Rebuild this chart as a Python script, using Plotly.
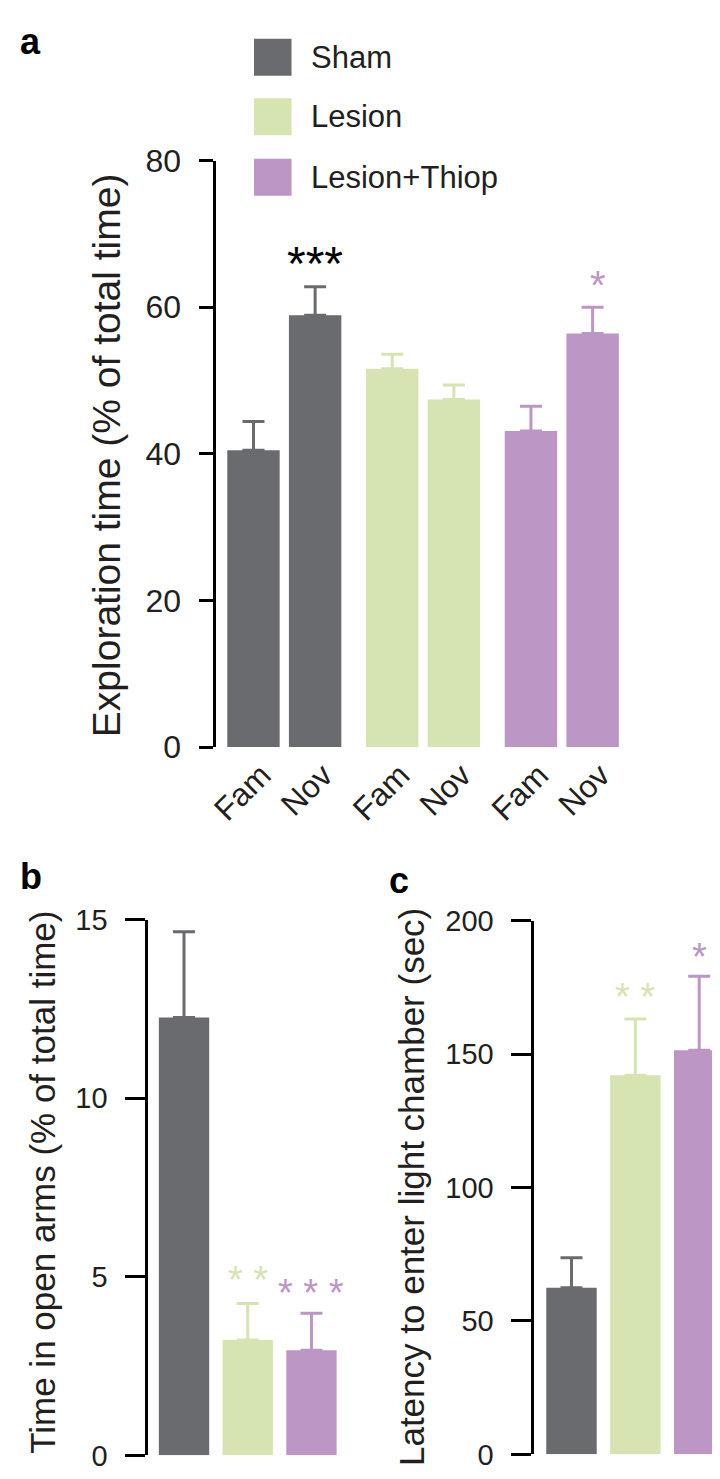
import plotly.graph_objects as go

# ---------------- data ----------------
groups = ["Sham", "Lesion", "Lesion+Thiop"]
conditions = ["Fam", "Nov"]

# panel a: exploration time (% of total time)
a_sham_mean = [40.5, 58.9]
a_sham_err = [3.9, 3.9]
a_lesion_mean = [51.6, 47.4]
a_lesion_err = [2.0, 2.0]
a_thiop_mean = [43.1, 56.4]
a_thiop_err = [3.4, 3.6]

# panel b: time in open arms (% of total time)
b_mean = [12.26, 3.23, 2.94]
b_err = [2.4, 1.02, 1.04]

# panel c: latency to enter light chamber (sec)
c_mean = [62.4, 142.1, 151.4]
c_err = [11.3, 21.1, 27.8]

# significance marks (a: per bar in order Sham Fam, Sham Nov, Lesion Fam, ...)
a_sig = ["", "***", "", "", "", "*"]
b_sig = ["", "* *", "* * *"]
c_sig = ["", "* *", "*"]

a_ticks = [0, 20, 40, 60, 80]
b_ticks = [0, 5, 10, 15]
c_ticks = [0, 50, 100, 150, 200]

# ---------------- style ----------------
colors = ["#6a6b6f", "#d6e4b2", "#bc96c4"]
FONT = "Liberation Sans, Arial, Helvetica, sans-serif"
TXT = "#231f20"
W, H = 720, 1479

fig = go.Figure()

a_means = [a_sham_mean, a_lesion_mean, a_thiop_mean]
a_errs = [a_sham_err, a_lesion_err, a_thiop_err]
GROUP_STEP = 2.25
a_pos = []
for gi, g in enumerate(groups):
    xs = [gi * GROUP_STEP + ci for ci in range(len(conditions))]
    a_pos += xs
    fig.add_trace(go.Bar(
        x=xs, y=a_means[gi], width=0.85, name=g,
        marker=dict(color=colors[gi], line=dict(width=0)),
        error_y=dict(type="data", symmetric=False, array=a_errs[gi],
                     arrayminus=[0] * len(xs), color=colors[gi],
                     thickness=3, width=11),
        xaxis="x", yaxis="y", showlegend=False))

for gi, g in enumerate(groups):
    fig.add_trace(go.Bar(
        x=[gi], y=[b_mean[gi]], width=0.79, name=g,
        marker=dict(color=colors[gi], line=dict(width=0)),
        error_y=dict(type="data", symmetric=False, array=[b_err[gi]],
                     arrayminus=[0], color=colors[gi], thickness=3, width=11),
        xaxis="x2", yaxis="y2", showlegend=False))
    fig.add_trace(go.Bar(
        x=[gi], y=[c_mean[gi]], width=0.79, name=g,
        marker=dict(color=colors[gi], line=dict(width=0)),
        error_y=dict(type="data", symmetric=False, array=[c_err[gi]],
                     arrayminus=[0], color=colors[gi], thickness=3, width=11),
        xaxis="x3", yaxis="y3", showlegend=False))


def px_x(p):
    return p / W


def px_y(p):
    return 1 - p / H


yax_common = dict(showline=True, linecolor="black", linewidth=3,
                  ticks="outside", tickcolor="black", tickwidth=3,
                  showgrid=False, zeroline=False)
xax_common = dict(showline=False, showgrid=False, zeroline=False, ticks="")

fig.update_layout(
    width=W, height=H, margin=dict(l=0, r=0, t=0, b=0),
    paper_bgcolor="white", plot_bgcolor="white", barmode="overlay",
    xaxis=dict(domain=[px_x(202), px_x(611)], range=[-0.6, 5.95],
               tickmode="array", tickvals=a_pos,
               ticktext=conditions * len(groups), tickangle=-45,
               tickfont=dict(family=FONT, size=32, color=TXT),
               ticklabelshift=8, ticklabelstandoff=2, anchor="y",
               **xax_common),
    yaxis=dict(domain=[px_y(739), px_y(138)], range=[0, 80],
               tickvals=a_ticks, ticklen=14, ticklabelstandoff=12,
               tickfont=dict(family=FONT, size=32, color=TXT),
               anchor="x", **yax_common),
    xaxis2=dict(domain=[px_x(133), px_x(324)], range=[-0.56, 2.4],
                showticklabels=False, anchor="y2", **xax_common),
    yaxis2=dict(domain=[px_y(1465), px_y(916)], range=[0, 15],
                tickvals=b_ticks, ticklen=20, ticklabelstandoff=12,
                tickfont=dict(family=FONT, size=29, color=TXT),
                anchor="x2", **yax_common),
    xaxis3=dict(domain=[px_x(524), px_x(718)], range=[-0.58, 2.42],
                showticklabels=False, anchor="y3", **xax_common),
    yaxis3=dict(domain=[px_y(1464), px_y(917)], range=[0, 200],
                tickvals=c_ticks, ticklen=20, ticklabelstandoff=12,
                tickfont=dict(family=FONT, size=29, color=TXT),
                anchor="x3", **yax_common),
)

ann = []
# axis titles
ann.append(dict(text="Exploration time (% of total time)", x=px_x(90), y=px_y(440),
                xref="paper", yref="paper", textangle=-90, showarrow=False,
                font=dict(family=FONT, size=39, color=TXT),
                xanchor="center", yanchor="middle"))
ann.append(dict(text="Time in open arms (% of total time)", x=px_x(25), y=px_y(1185),
                xref="paper", yref="paper", textangle=-90, showarrow=False,
                font=dict(family=FONT, size=35, color=TXT),
                xanchor="center", yanchor="middle"))
ann.append(dict(text="Latency to enter light chamber (sec)", x=px_x(399), y=px_y(1190),
                xref="paper", yref="paper", textangle=-90, showarrow=False,
                font=dict(family=FONT, size=35, color=TXT),
                xanchor="center", yanchor="middle"))

# panel letters
for letter, (lx, ly) in zip(["a", "b", "c"], [(1, 16), (1, 872), (375, 876)]):
    ann.append(dict(text="<b>%s</b>" % letter, x=px_x(lx), y=px_y(ly),
                    xref="paper", yref="paper", showarrow=False,
                    font=dict(family=FONT, size=36, color="black"),
                    xanchor="left", yanchor="middle"))

# significance marks
a_sig_y = [None, 67.5, None, None, None, 64.3]
a_sig_col = [None, "black", None, None, None, colors[2]]
for i, s in enumerate(a_sig):
    if s:
        fs = 48 if len(s) > 1 else 40
        ann.append(dict(text=s, x=a_pos[i], y=a_sig_y[i], xref="x", yref="y",
                        showarrow=False, yshift=-0.23 * fs,
                        xshift=0 if len(s) > 1 else 5,
                        font=dict(family=FONT, size=fs, color=a_sig_col[i]),
                        xanchor="center", yanchor="middle"))
b_sig_y = [None, 5.16, 4.78]
c_sig_y = [None, 174.8, 189.8]
for i in range(len(groups)):
    if b_sig[i]:
        ann.append(dict(text=b_sig[i], x=i, y=b_sig_y[i], xref="x2", yref="y2",
                        showarrow=False, yshift=-0.23 * 38,
                        font=dict(family=FONT, size=38, color=colors[i]),
                        xanchor="center", yanchor="middle"))
    if c_sig[i]:
        ann.append(dict(text=c_sig[i], x=i, y=c_sig_y[i], xref="x3", yref="y3",
                        showarrow=False, yshift=-0.23 * 38,
                        font=dict(family=FONT, size=38, color=colors[i]),
                        xanchor="center", yanchor="middle"))

# legend (top of panel a)
leg_tops = [13, 74, 136]
shapes = []
for gi, g in enumerate(groups):
    t = leg_tops[gi]
    shapes.append(dict(type="rect", xref="paper", yref="paper",
                       x0=px_x(240), x1=px_x(278), y0=px_y(t + 38), y1=px_y(t),
                       fillcolor=colors[gi], line=dict(width=0)))
    ann.append(dict(text=g, x=px_x(296), y=px_y(t + 19), xref="paper", yref="paper",
                    showarrow=False, xanchor="left", yanchor="middle",
                    font=dict(family=FONT, size=31, color=TXT)))

fig.update_layout(annotations=ann, shapes=shapes)
fig.write_html("out.html")
